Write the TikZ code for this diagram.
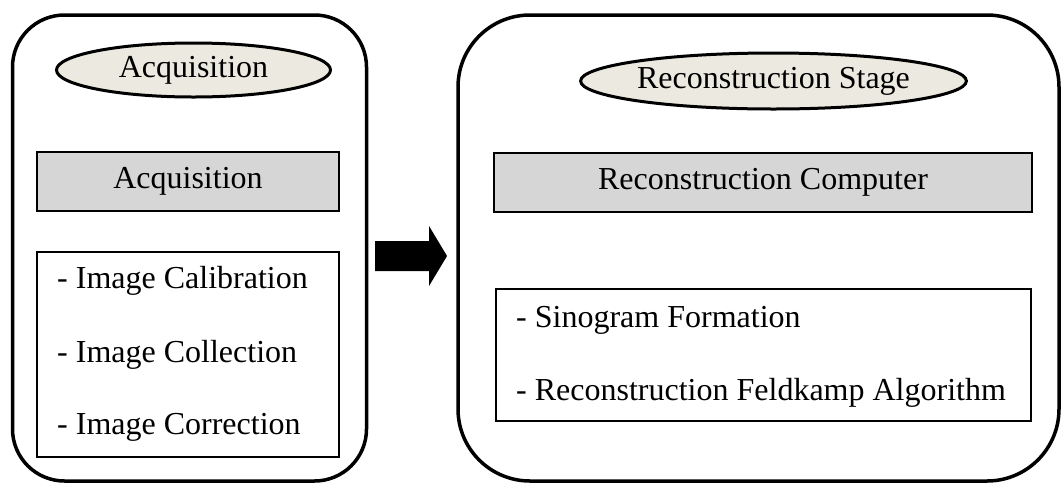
\documentclass[tikz,border=0pt]{standalone}
\usepackage{fontspec}
\setmainfont{Liberation Serif}
\usetikzlibrary{shapes.geometric}
\definecolor{ellfill}{HTML}{ECEAE0}
\definecolor{boxgray}{HTML}{D6D6D6}
\tikzset{
  outer/.style={draw=black, line width=3.5pt},
  stage/.style={ellipse, draw=black, line width=3pt, fill=ellfill, inner sep=0pt, font=\fontsize{32}{36}\selectfont},
  graybox/.style={rectangle, draw=black, line width=2.4pt, fill=boxgray, inner sep=0pt, font=\fontsize{32}{36}\selectfont},
  whitebox/.style={rectangle, draw=black, line width=1.6pt, fill=white, inner sep=0pt},
  item/.style={anchor=west, inner sep=0pt, font=\fontsize{32}{36}\selectfont},
}
\begin{document}
\begin{tikzpicture}[x=1pt, y=-1pt]
\useasboundingbox (0,0) rectangle (1063,483);
\clip (0,0) rectangle (1063,483);
% outer rounded panels
\draw[outer, rounded corners=52pt] (12.5,15) rectangle (366.5,481);
\draw[outer, rounded corners=72pt] (458,15) rectangle (1059,481);
% left panel
\node[stage, minimum width=274pt, minimum height=54pt] (e1) at (193.5,70) {Acquisition};
\node[graybox, minimum width=302pt, minimum height=59pt] (g1) at (188,181.5) {Acquisition};
\node[whitebox, minimum width=302pt, minimum height=205pt] (w1) at (188,354.5) {};
\node[item] (t1) at (57,281) {- Image Calibration};
\node[item] (t2) at (57,355) {- Image Collection};
\node[item] (t3) at (57,427) {- Image Correction};
% right panel
\node[stage, minimum width=356pt, minimum height=56pt] (e2) at (773.5,81) {Reconstruction Stage};
\node[graybox, minimum width=538pt, minimum height=59pt] (g2) at (763,182.5) {Reconstruction Computer};
\node[whitebox, minimum width=535pt, minimum height=132pt] (w2) at (763.5,355) {};
\node[item] (t4) at (516,320) {- Sinogram Formation};
\node[item] (t5) at (516,393) {- Reconstruction Feldkamp Algorithm};
% block arrow
\fill[black] (375,241) -- (429,241) -- (429,226) -- (447,256) -- (429,286) -- (429,271) -- (375,271) -- cycle;
\end{tikzpicture}
\end{document}
